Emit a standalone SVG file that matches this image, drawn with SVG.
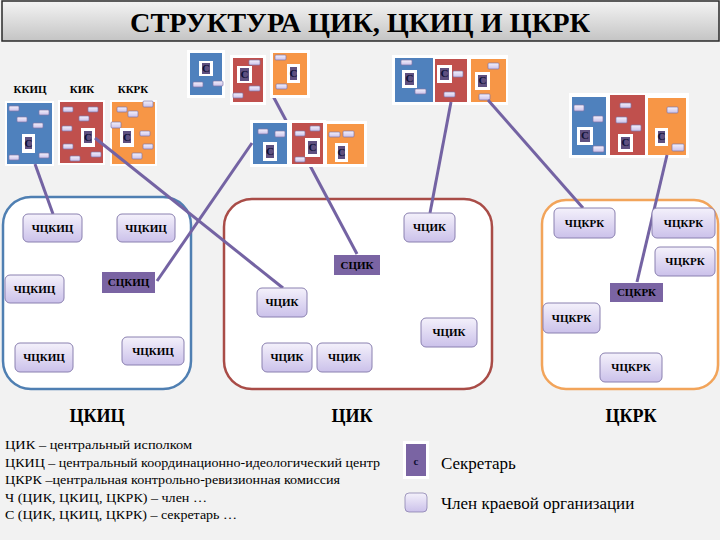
<svg xmlns="http://www.w3.org/2000/svg" width="720" height="540" viewBox="0 0 720 540" font-family="'Liberation Serif','Times New Roman',Times,'DejaVu Serif',serif">
<defs>
<linearGradient id="tg" x1="0" y1="0" x2="0" y2="1"><stop offset="0" stop-color="#f4f4f4"/><stop offset="1" stop-color="#c4c4c4"/></linearGradient>
<linearGradient id="mg" x1="0" y1="0" x2="0" y2="1"><stop offset="0" stop-color="#f4f1fb"/><stop offset="1" stop-color="#cbc1ea"/></linearGradient>
</defs>
<style>
text{font-family:'Liberation Serif','Times New Roman',Times,'DejaVu Serif',serif}
.bg{fill:#f2f2f2}
.fr{fill:#ffffff}
.bb{fill:#4f81bd}.br{fill:#c0504d}.bo{fill:#f79646}
.m{fill:url(#mg);stroke:#7f76a8;stroke-width:0.7}
.sw{fill:#ffffff}
.sp{fill:#5e5080}
.st{font-weight:bold;font-size:11px;fill:#101035;text-anchor:middle}
.pan{fill:#ffffff;stroke-width:2.5}
.nd{fill:url(#mg);stroke:#8a80b0;stroke-width:1}
.sd{fill:#7a64a3}
.nt{font-weight:bold;font-size:11px;fill:#000;text-anchor:middle}
.lab{font-weight:bold;font-size:11px;fill:#000;text-anchor:middle}
.big{font-weight:bold;font-size:18px;fill:#000;text-anchor:middle}
.lg{font-size:13px;fill:#000}
.lg2{font-size:17px;fill:#000}
.cn{stroke:#7463a3;stroke-width:3;fill:none}
</style>
<rect class="bg" x="0" y="0" width="720" height="540"/>
<g id="title">
<rect x="2" y="1" width="717" height="40" fill="url(#tg)" stroke="#2a2a2a" stroke-width="1.5"/>
<text x="360" y="32" font-weight="bold" font-size="28" text-anchor="middle" textLength="460" lengthAdjust="spacingAndGlyphs">СТРУКТУРА ЦИК, ЦКИЦ И ЦКРК</text>
</g>

<g id="panel-ckic"><rect class="pan" x="3" y="197" width="188" height="192" rx="28" stroke="#4f7fb2"/></g>
<g id="panel-cik"><rect class="pan" x="224" y="199" width="268" height="190" rx="28" stroke="#a94c47"/></g>
<g id="panel-ckrk"><rect class="pan" x="542" y="200" width="176" height="189" rx="24" stroke="#f2a45a"/></g>

<g id="labels-top">
<text class="lab" x="30" y="93">ККИЦ</text>
<text class="lab" x="82" y="93">КИК</text>
<text class="lab" x="133" y="93">ККРК</text>
</g>

<g id="connectors-hidden">
<line class="cn" x1="273" y1="96" x2="357" y2="254"/>
</g>

<g id="cluster-tl">
<rect class="fr" x="5" y="101" width="49" height="65"/><rect class="bb" x="7" y="103" width="45" height="61"/>
<rect class="fr" x="58" y="100" width="47" height="65"/><rect class="br" x="60" y="102" width="43" height="61"/>
<rect class="fr" x="110" y="100" width="47" height="66"/><rect class="bo" x="112" y="102" width="43" height="62"/>
<rect class="m" x="9" y="106" width="10" height="5" rx="1"/><rect class="m" x="39" y="110" width="10" height="5" rx="1"/><rect class="m" x="17" y="117" width="10" height="5" rx="1"/><rect class="m" x="33" y="123" width="10" height="5" rx="1"/><rect class="m" x="9" y="155" width="10" height="5" rx="1"/><rect class="m" x="39" y="153" width="10" height="5" rx="1"/>
<rect class="m" x="63" y="107" width="10" height="5" rx="1"/><rect class="m" x="88" y="107" width="10" height="5" rx="1"/><rect class="m" x="79" y="116" width="10" height="5" rx="1"/><rect class="m" x="62" y="126" width="10" height="5" rx="1"/><rect class="m" x="63" y="144" width="10" height="5" rx="1"/><rect class="m" x="91" y="152" width="10" height="5" rx="1"/><rect class="m" x="70" y="156" width="10" height="5" rx="1"/>
<rect class="m" x="143" y="101" width="10" height="6" rx="1"/><rect class="m" x="117" y="107" width="10" height="5" rx="1"/><rect class="m" x="128" y="111" width="10" height="6" rx="1"/><rect class="m" x="111" y="122" width="10" height="6" rx="1"/><rect class="m" x="140" y="131" width="10" height="5" rx="1"/><rect class="m" x="143" y="144" width="10" height="5" rx="1"/><rect class="m" x="132" y="153" width="10" height="6" rx="1"/>
<rect class="sw" x="22" y="134" width="13" height="19"/><rect class="sp" x="25" y="137" width="7" height="12"/><text class="st" x="28.5" y="147">С</text>
<rect class="sw" x="81" y="128" width="14" height="19"/><rect class="sp" x="84" y="131" width="8" height="12"/><text class="st" x="88" y="141">С</text>
<rect class="sw" x="120" y="128" width="14" height="19"/><rect class="sp" x="123" y="131" width="8" height="12"/><text class="st" x="127" y="141">С</text>
</g>

<g id="cluster-m1">
<rect class="fr" x="187" y="50" width="38" height="48"/><rect class="bb" x="190" y="53" width="32" height="42"/>
<rect class="fr" x="230" y="55" width="36" height="50"/><rect class="br" x="233" y="58" width="30" height="44"/>
<rect class="fr" x="270" y="50" width="40" height="48"/><rect class="bo" x="273" y="53" width="34" height="42"/>
<rect class="m" x="193" y="82" width="10" height="5" rx="1"/><rect class="m" x="213" y="81" width="10" height="5" rx="1"/>
<rect class="m" x="249" y="60" width="11" height="5" rx="1"/><rect class="m" x="249" y="86" width="11" height="5" rx="1"/><rect class="m" x="233" y="93" width="10" height="5" rx="1"/>
<rect class="m" x="275" y="55" width="11" height="5" rx="1"/><rect class="m" x="276" y="84" width="11" height="5" rx="1"/>
<rect class="sw" x="199" y="61" width="14" height="15"/><rect class="sp" x="202" y="63" width="8" height="11"/><text class="st" x="206" y="72">С</text>
<rect class="sw" x="237" y="66" width="15" height="17"/><rect class="sp" x="240" y="68" width="9" height="13"/><text class="st" x="244.5" y="78">С</text>
<rect class="sw" x="287" y="64" width="13" height="19"/><rect class="sp" x="290" y="67" width="7" height="13"/><text class="st" x="293.5" y="77">С</text>
</g>

<g id="cluster-m2">
<rect class="fr" x="250" y="120" width="40" height="47"/><rect class="bb" x="253" y="123" width="34" height="41"/>
<rect class="fr" x="289" y="120" width="37" height="47"/><rect class="br" x="292" y="123" width="31" height="41"/>
<rect class="fr" x="324" y="121" width="43" height="46"/><rect class="bo" x="327" y="124" width="37" height="40"/>
<rect class="m" x="258" y="129" width="10" height="5" rx="1"/><rect class="m" x="275" y="131" width="10" height="6" rx="1"/>
<rect class="m" x="310" y="126" width="10" height="5" rx="1"/><rect class="m" x="295" y="131" width="10" height="5" rx="1"/><rect class="m" x="295" y="157" width="10" height="5" rx="1"/>
<rect class="m" x="329" y="132" width="11" height="5" rx="1"/><rect class="m" x="343" y="131" width="11" height="6" rx="1"/>
<rect class="sw" x="263" y="142" width="14" height="19"/><rect class="sp" x="266" y="145" width="8" height="13"/><text class="st" x="270" y="155">С</text>
<rect class="sw" x="305" y="138" width="15" height="19"/><rect class="sp" x="308" y="141" width="9" height="13"/><text class="st" x="312.5" y="151">С</text>
<rect class="sw" x="335" y="143" width="13" height="19"/><rect class="sp" x="338" y="146" width="7" height="13"/><text class="st" x="341.5" y="156">С</text>
</g>

<g id="cluster-r1">
<rect class="fr" x="392" y="55" width="116" height="50"/>
<rect class="bb" x="395" y="58" width="38" height="44"/>
<rect class="br" x="435" y="59" width="32" height="43"/>
<rect class="bo" x="471" y="59" width="35" height="43"/>
<rect class="m" x="401" y="60" width="11" height="5" rx="1"/><rect class="m" x="415" y="89" width="11" height="5" rx="1"/>
<rect class="m" x="453" y="71" width="10" height="6" rx="1"/><rect class="m" x="444" y="92" width="11" height="5" rx="1"/>
<rect class="m" x="488" y="63" width="11" height="6" rx="1"/><rect class="m" x="479" y="94" width="11" height="6" rx="1"/>
<rect class="sw" x="402" y="70" width="15" height="18"/><rect class="sp" x="405" y="73" width="9" height="12"/><text class="st" x="409.5" y="82">С</text>
<rect class="sw" x="437" y="65" width="15" height="18"/><rect class="sp" x="440" y="68" width="9" height="12"/><text class="st" x="444.5" y="77">С</text>
<rect class="sw" x="475" y="72" width="15" height="18"/><rect class="sp" x="478" y="75" width="9" height="12"/><text class="st" x="482.5" y="84">С</text>
</g>

<g id="cluster-r2">
<rect class="fr" x="569" y="93" width="120" height="65"/>
<rect class="bb" x="572" y="97" width="34" height="58"/>
<rect class="br" x="610" y="95" width="35" height="60"/>
<rect class="bo" x="648" y="98" width="38" height="57"/>
<rect class="m" x="574" y="105" width="10" height="6" rx="1"/><rect class="m" x="593" y="116" width="10" height="6" rx="1"/><rect class="m" x="593" y="146" width="11" height="6" rx="1"/>
<rect class="m" x="620" y="103" width="11" height="5" rx="1"/><rect class="m" x="616" y="117" width="11" height="6" rx="1"/><rect class="m" x="631" y="125" width="10" height="6" rx="1"/>
<rect class="m" x="667" y="107" width="11" height="6" rx="1"/><rect class="m" x="672" y="144" width="12" height="7" rx="1"/>
<rect class="sw" x="577" y="127" width="16" height="18"/><rect class="sp" x="580" y="130" width="10" height="12"/><text class="st" x="585" y="139">С</text>
<rect class="sw" x="618" y="134" width="15" height="18"/><rect class="sp" x="621" y="137" width="9" height="12"/><text class="st" x="625.5" y="146">С</text>
<rect class="sw" x="655" y="128" width="13" height="18"/><rect class="sp" x="658" y="131" width="7" height="12"/><text class="st" x="661.5" y="140">С</text>
</g>

<g id="connectors">
<line class="cn" x1="35" y1="164" x2="53" y2="214"/>
<line class="cn" x1="95" y1="138" x2="283" y2="288"/>
<line class="cn" x1="252" y1="143" x2="157" y2="281"/>
<line class="cn" x1="451" y1="102" x2="430" y2="213"/>
<line class="cn" x1="488" y1="100" x2="583" y2="208"/>
<line class="cn" x1="667" y1="155" x2="637" y2="282"/>
</g>

<g id="n-ckic-1"><rect class="nd" x="23" y="214" width="59" height="28" rx="5"/><text class="nt" x="52.5" y="232">ЧЦКИЦ</text></g>
<g id="n-ckic-2"><rect class="nd" x="117" y="214" width="58" height="28" rx="5"/><text class="nt" x="146" y="232">ЧЦКИЦ</text></g>
<g id="n-ckic-3"><rect class="nd" x="5" y="275" width="59" height="28" rx="5"/><text class="nt" x="34.5" y="293">ЧЦКИЦ</text></g>
<g id="n-ckic-s"><rect class="sd" x="102" y="272" width="53" height="21"/><text class="nt" x="128.5" y="286">СЦКИЦ</text></g>
<g id="n-ckic-4"><rect class="nd" x="15" y="343" width="58" height="29" rx="5"/><text class="nt" x="44" y="361">ЧЦКИЦ</text></g>
<g id="n-ckic-5"><rect class="nd" x="122" y="337" width="62" height="28" rx="5"/><text class="nt" x="153" y="355">ЧЦКИЦ</text></g>

<g id="n-cik-1"><rect class="nd" x="404" y="213" width="51" height="29" rx="5"/><text class="nt" x="429.5" y="231">ЧЦИК</text></g>
<g id="n-cik-s"><rect class="sd" x="334" y="255" width="46" height="20"/><text class="nt" x="357" y="269">СЦИК</text></g>
<g id="n-cik-2"><rect class="nd" x="257" y="288" width="50" height="29" rx="5"/><text class="nt" x="282" y="306">ЧЦИК</text></g>
<g id="n-cik-3"><rect class="nd" x="421" y="318" width="56" height="29" rx="5"/><text class="nt" x="449" y="336">ЧЦИК</text></g>
<g id="n-cik-4"><rect class="nd" x="262" y="343" width="50" height="29" rx="5"/><text class="nt" x="287" y="361">ЧЦИК</text></g>
<g id="n-cik-5"><rect class="nd" x="317" y="343" width="55" height="29" rx="5"/><text class="nt" x="344.5" y="361">ЧЦИК</text></g>

<g id="n-ckrk-1"><rect class="nd" x="554" y="208" width="61" height="30" rx="5"/><text class="nt" x="584.5" y="227">ЧЦКРК</text></g>
<g id="n-ckrk-2"><rect class="nd" x="652" y="208" width="63" height="30" rx="5"/><text class="nt" x="683.5" y="227">ЧЦКРК</text></g>
<g id="n-ckrk-3"><rect class="nd" x="655" y="247" width="60" height="29" rx="5"/><text class="nt" x="685" y="265">ЧЦКРК</text></g>
<g id="n-ckrk-s"><rect class="sd" x="610" y="283" width="53" height="19"/><text class="nt" x="636.5" y="296">СЦКРК</text></g>
<g id="n-ckrk-4"><rect class="nd" x="543" y="303" width="57" height="30" rx="5"/><text class="nt" x="571.5" y="322">ЧЦКРК</text></g>
<g id="n-ckrk-5"><rect class="nd" x="600" y="353" width="62" height="29" rx="5"/><text class="nt" x="631" y="371">ЧЦКРК</text></g>

<g id="panel-labels">
<text class="big" x="97" y="422">ЦКИЦ</text>
<text class="big" x="352" y="422">ЦИК</text>
<text class="big" x="631" y="422">ЦКРК</text>
</g>

<g id="legend">
<text class="lg" x="5" y="449" textLength="187" lengthAdjust="spacingAndGlyphs">ЦИК – центральный исполком</text>
<text class="lg" x="5" y="467" textLength="375" lengthAdjust="spacingAndGlyphs">ЦКИЦ – центральный координационно-идеологический центр</text>
<text class="lg" x="5" y="484" textLength="335" lengthAdjust="spacingAndGlyphs">ЦКРК –центральная контрольно-ревизионная комиссия</text>
<text class="lg" x="5" y="502" textLength="202" lengthAdjust="spacingAndGlyphs">Ч (ЦИК, ЦКИЦ, ЦКРК) – член …</text>
<text class="lg" x="5" y="519" textLength="232" lengthAdjust="spacingAndGlyphs">С (ЦИК, ЦКИЦ, ЦКРК) – секретарь …</text>
<rect class="sw" x="403" y="441" width="26" height="38"/>
<rect x="406" y="444" width="20" height="32" fill="#7a64a3"/>
<text class="st" x="416" y="465" font-size="12">с</text>
<text class="lg2" x="441" y="469">Секретарь</text>
<rect class="m" x="405" y="493" width="22" height="19" rx="4"/>
<text class="lg2" x="441" y="509">Член краевой организации</text>
</g>
</svg>
